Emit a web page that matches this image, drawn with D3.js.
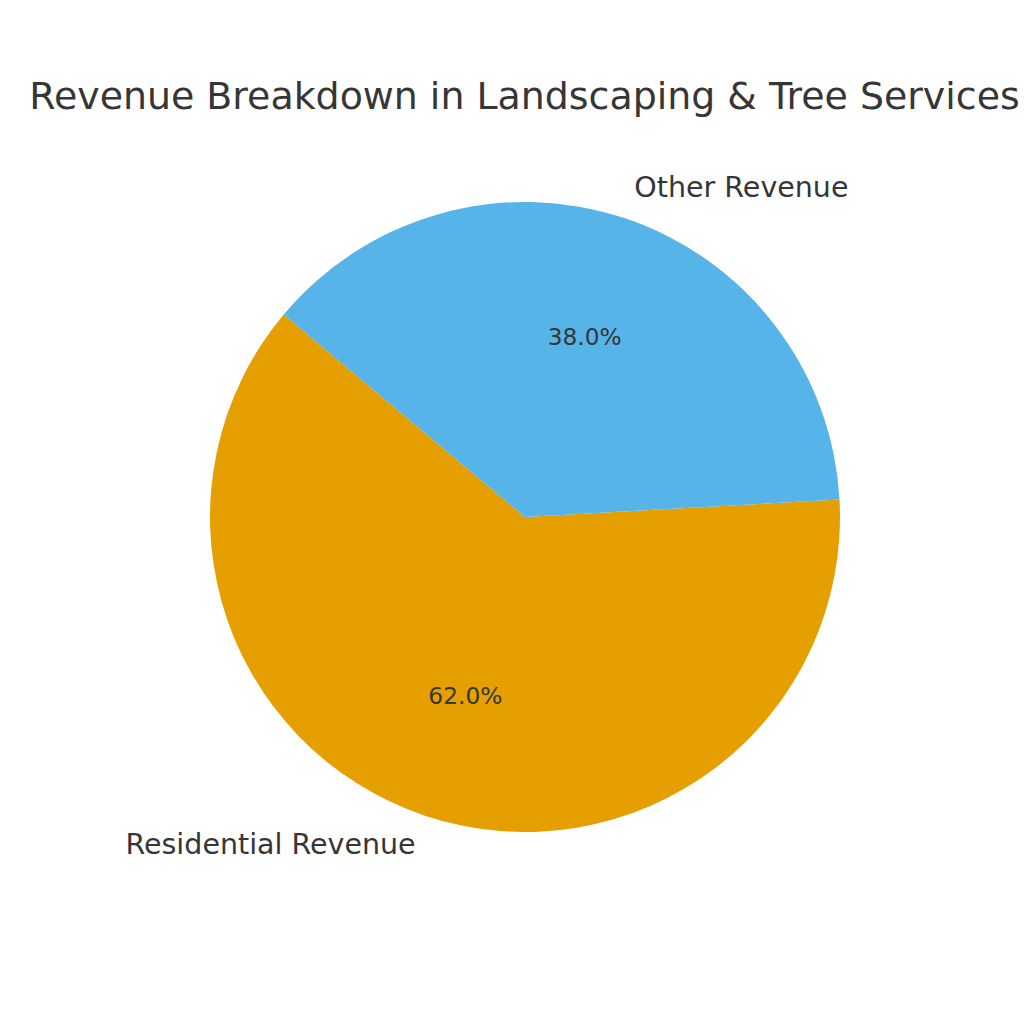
<!DOCTYPE html>
<html><head><meta charset="utf-8">
<script src="https://cdn.jsdelivr.net/npm/d3@7"></script>
<style>body{margin:0;background:#fff}</style>
</head><body>
<svg id="c" width="1024" height="1024"></svg>
<script>
const categories = ["Residential Revenue", "Other Revenue"];
const values = [62.0, 38.0];
const colors = ["#E69F00", "#56B4E9"];
const title = "Revenue Breakdown in Landscaping & Tree Services";

const svg = d3.select("#c");
const W = 1024, cx = 525, cy = 517, R = 315;
const textColor = "#363636";
const font = "DejaVu Sans, sans-serif";

svg.append("rect").attr("width", W).attr("height", W).attr("fill", "#fff");

svg.append("text").attr("x", 524.5).attr("y", 96)
  .attr("text-anchor", "middle").attr("dominant-baseline", "central")
  .attr("font-family", font).attr("font-size", 37.9).attr("fill", textColor)
  .text(title);

// matplotlib startangle=140, counterclockwise
const startDeg = 140;
const total = d3.sum(values);
const pie = d3.pie().sort(null).value(d => d)
  .startAngle((90 - startDeg) * Math.PI / 180)
  .endAngle((90 - startDeg - 360) * Math.PI / 180);
const arcs = pie(values);
const arc = d3.arc().innerRadius(0).outerRadius(R);

const g = svg.append("g").attr("transform", `translate(${cx},${cy})`);
g.selectAll("path").data(arcs).join("path")
  .attr("d", arc).attr("fill", (d, i) => colors[i]);

function pos(d, f) {
  const a = (d.startAngle + d.endAngle) / 2;
  return [f * R * Math.sin(a), -f * R * Math.cos(a)];
}
g.selectAll("text.lab").data(arcs).join("text").attr("class", "lab")
  .attr("x", d => pos(d, 1.1)[0]).attr("y", d => pos(d, 1.1)[1] - 1)
  .attr("text-anchor", d => pos(d, 1.1)[0] < 0 ? "end" : "start")
  .attr("dominant-baseline", "central")
  .attr("font-family", font).attr("font-size", 28.5).attr("fill", textColor)
  .text((d, i) => categories[i]);
g.selectAll("text.pct").data(arcs).join("text").attr("class", "pct")
  .attr("x", d => pos(d, 0.6)[0]).attr("y", d => pos(d, 0.6)[1] - 1)
  .attr("text-anchor", "middle").attr("dominant-baseline", "central")
  .attr("font-family", font).attr("font-size", 23.3).attr("fill", textColor)
  .text(d => (d.value / total * 100).toFixed(1) + "%");
</script>
</body></html>
